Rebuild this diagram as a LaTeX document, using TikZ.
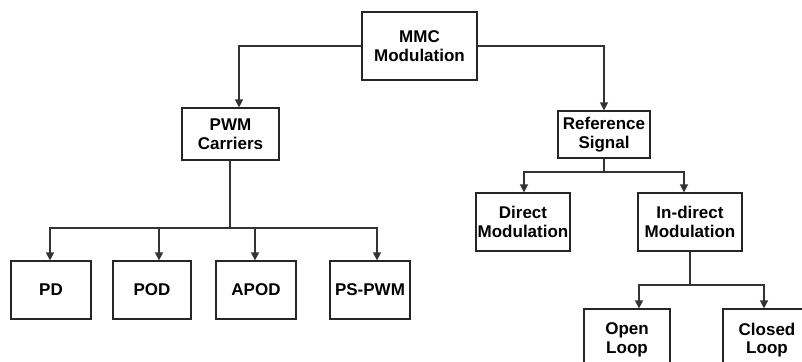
\documentclass[tikz,border=0pt]{standalone}
\usepackage{fontspec}
\setmainfont{Liberation Sans}
\usetikzlibrary{arrows.meta}
\begin{document}
\begin{tikzpicture}[x=1pt,y=-1pt,
  box/.style={draw=black!85, line width=1.2pt, rectangle, inner sep=0pt, align=center,
    font=\fontsize{17}{18.5}\selectfont\bfseries},
  conn/.style={draw=black!80, line width=1.4pt},
  arr/.style={conn, -{Triangle[length=8pt,width=8pt]}}]
\useasboundingbox (0,0) rectangle (802,361);
\begin{scope}
\clip (0,0) rectangle (802,361);
\node[box, minimum width=115pt, minimum height=68pt] (mmc) at (419.5,46) {MMC\\Modulation};
\node[box, minimum width=97pt, minimum height=52pt] (pwm) at (230.5,134) {PWM\\Carriers};
\node[box, minimum width=92pt, minimum height=47pt] (ref) at (604,134.5) {Reference\\Signal};
\node[box, minimum width=80pt, minimum height=58pt] (pd) at (51,290) {PD};
\node[box, minimum width=78pt, minimum height=58pt] (pod) at (152,290) {POD};
\node[box, minimum width=80pt, minimum height=58pt] (apod) at (256,290) {APOD};
\node[box, minimum width=80pt, minimum height=58pt] (pspwm) at (370,290) {PS-PWM};
\node[box, minimum width=94pt, minimum height=58pt] (direct) at (523,222) {Direct\\Modulation};
\node[box, minimum width=104pt, minimum height=58pt] (indirect) at (690,222) {In-direct\\Modulation};
\node[box, minimum width=86pt, minimum height=62pt] (open) at (627,340) {Open\\Loop};
\node[box, minimum width=88pt, minimum height=62pt] (closed) at (767,340) {Closed\\Loop};
\end{scope}
\coordinate (j1) at (230,228);
\coordinate (j2) at (604,172);
\coordinate (j3) at (690,285);
\draw[arr] (mmc.west) -| ([xshift=8.5pt]pwm.north);
\draw[arr] (mmc.east) -| (ref.north);
\draw[conn] ([xshift=-0.5pt]pwm.south) -- (j1);
\draw[arr] (j1) -| ([xshift=-1pt]pd.north);
\draw[arr] (j1) -| ([xshift=7pt]pod.north);
\draw[arr] (j1) -| ([xshift=-1pt]apod.north);
\draw[arr] (j1) -| ([xshift=7pt]pspwm.north);
\draw[conn] (ref.south) -- (j2);
\draw[arr] (j2) -| ([xshift=1pt]direct.north);
\draw[arr] (j2) -| ([xshift=-6pt]indirect.north);
\draw[conn] (indirect.south) -- (j3);
\draw[arr] (j3) -| ([xshift=12pt]open.north);
\draw[arr] (j3) -| ([xshift=-3pt]closed.north);
\end{tikzpicture}
\end{document}
